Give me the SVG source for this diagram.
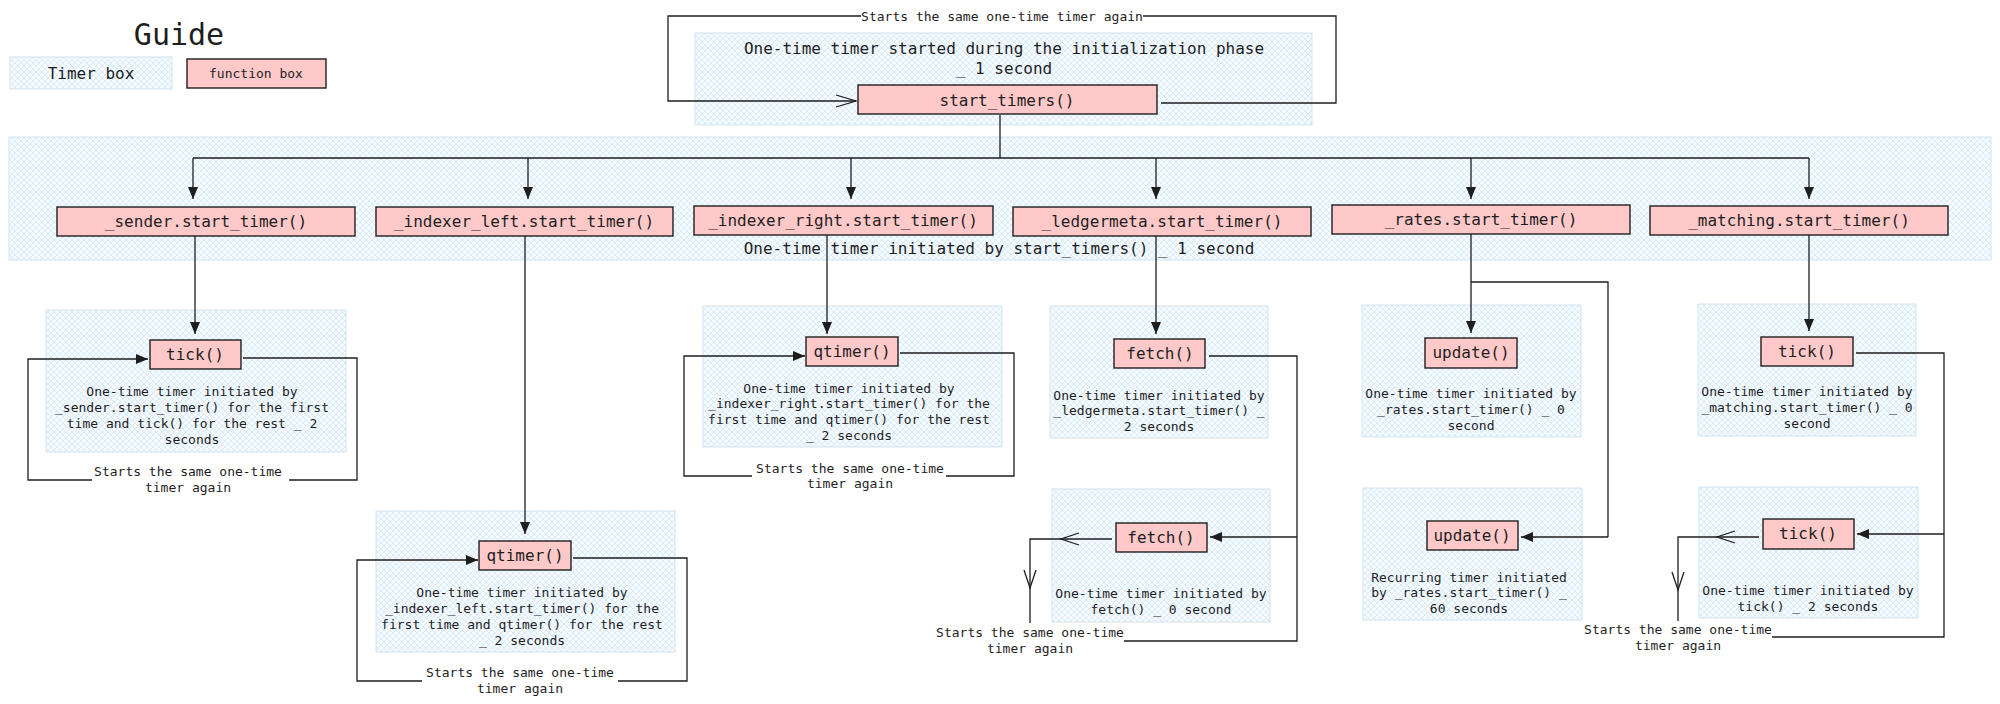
<svg xmlns="http://www.w3.org/2000/svg" width="2000" height="704" viewBox="0 0 2000 704">
<defs>
<pattern id="hatch" patternUnits="userSpaceOnUse" width="6" height="6">
<rect width="6" height="6" fill="#f5faff"/>
<path d="M0,6 L6,0 M-1,1 L1,-1 M5,7 L7,5 M0,0 L6,6 M-1,5 L1,7 M5,-1 L7,1" stroke="#c8e2f9" stroke-width="0.6"/>
</pattern>
<marker id="ah" viewBox="0 0 12 10" refX="12" refY="5" markerWidth="12" markerHeight="10" markerUnits="userSpaceOnUse" orient="auto">
<path d="M0,0 L12,5 L0,10 z" fill="#1e1e1e"/>
</marker>
<style>
text{font-family:"DejaVu Sans Mono","Liberation Mono",monospace;fill:#1e1e1e;text-anchor:middle}
.t13{font-size:13px}
.t16{font-size:16px}
.timer{fill:url(#hatch);stroke:#d3e3ef;stroke-width:1}
.fn{fill:#ffc9c9;stroke:#1e1e1e;stroke-width:1.4}
.ln{fill:none;stroke:#1e1e1e;stroke-width:1.3}
.arr{fill:none;stroke:#1e1e1e;stroke-width:1.3;marker-end:url(#ah)}
</style>
</defs>
<rect width="2000" height="704" fill="#ffffff"/>

<g id="guide">
<text x="179" y="45" style="font-size:30px">Guide</text>
<rect class="timer" x="10" y="57" width="162" height="32"/>
<text class="t16" x="91" y="79">Timer box</text>
<rect class="fn" x="187" y="59" width="139" height="29"/>
<text class="t13" x="256" y="78">function box</text>
</g>

<g id="band">
<rect class="timer" x="9" y="137" width="1982" height="123"/>
<text class="t16" x="999" y="254">One-time timer initiated by start_timers() _ 1 second</text>
</g>

<g id="init-timer">
<rect class="timer" x="695" y="33" width="617" height="92"/>
<text class="t16" x="1004" y="54">One-time timer started during the initialization phase</text>
<text class="t16" x="1004" y="74">_ 1 second</text>
</g>
<g id="start_timers">
<rect class="fn" x="858" y="85" width="299" height="29"/>
<text class="t16" x="1007" y="106">start_timers()</text>
</g>

<g id="sender-start"><rect class="fn" x="57" y="207" width="298" height="29"/><text class="t16" x="206" y="227">_sender.start_timer()</text></g>
<g id="indexer-left-start"><rect class="fn" x="376" y="207" width="297" height="29"/><text class="t16" x="524" y="227">_indexer_left.start_timer()</text></g>
<g id="indexer-right-start"><rect class="fn" x="694" y="206" width="299" height="29"/><text class="t16" x="843" y="226">_indexer_right.start_timer()</text></g>
<g id="ledgermeta-start"><rect class="fn" x="1013" y="207" width="298" height="29"/><text class="t16" x="1162" y="227">_ledgermeta.start_timer()</text></g>
<g id="rates-start"><rect class="fn" x="1332" y="205" width="298" height="29"/><text class="t16" x="1481" y="225">_rates.start_timer()</text></g>
<g id="matching-start"><rect class="fn" x="1650" y="206" width="298" height="29"/><text class="t16" x="1799" y="226">_matching.start_timer()</text></g>

<g id="sender-timer">
<rect class="timer" x="46" y="310" width="300" height="142"/>
<text class="t13" x="192" y="396">One-time timer initiated by</text>
<text class="t13" x="192" y="412">_sender.start_timer() for the first</text>
<text class="t13" x="192" y="428">time and tick() for the rest _ 2</text>
<text class="t13" x="192" y="444">seconds</text>
</g>
<g id="sender-tick"><rect class="fn" x="150" y="340" width="91" height="29"/><text class="t16" x="195" y="360">tick()</text></g>

<g id="indexer-left-timer">
<rect class="timer" x="376" y="511" width="299" height="141"/>
<text class="t13" x="522" y="597">One-time timer initiated by</text>
<text class="t13" x="522" y="613">_indexer_left.start_timer() for the</text>
<text class="t13" x="522" y="629">first time and qtimer() for the rest</text>
<text class="t13" x="522" y="645">_ 2 seconds</text>
</g>
<g id="indexer-left-qtimer"><rect class="fn" x="479" y="541" width="92" height="29"/><text class="t16" x="525" y="561">qtimer()</text></g>

<g id="indexer-right-timer">
<rect class="timer" x="703" y="306" width="299" height="141"/>
<text class="t13" x="849" y="393">One-time timer initiated by</text>
<text class="t13" x="849" y="408">_indexer_right.start_timer() for the</text>
<text class="t13" x="849" y="424">first time and qtimer() for the rest</text>
<text class="t13" x="849" y="440">_ 2 seconds</text>
</g>
<g id="indexer-right-qtimer"><rect class="fn" x="806" y="337" width="92" height="29"/><text class="t16" x="852" y="357">qtimer()</text></g>

<g id="ledgermeta-timer">
<rect class="timer" x="1050" y="306" width="218" height="132"/>
<text class="t13" x="1159" y="400">One-time timer initiated by</text>
<text class="t13" x="1159" y="415">_ledgermeta.start_timer() _</text>
<text class="t13" x="1159" y="431">2 seconds</text>
</g>
<g id="ledgermeta-fetch"><rect class="fn" x="1114" y="339" width="91" height="29"/><text class="t16" x="1160" y="359">fetch()</text></g>

<g id="fetch-timer">
<rect class="timer" x="1052" y="489" width="218" height="133"/>
<text class="t13" x="1161" y="598">One-time timer initiated by</text>
<text class="t13" x="1161" y="614">fetch() _ 0 second</text>
</g>
<g id="fetch-fetch"><rect class="fn" x="1116" y="523" width="91" height="29"/><text class="t16" x="1161" y="543">fetch()</text></g>

<g id="rates-timer">
<rect class="timer" x="1362" y="305" width="219" height="132"/>
<text class="t13" x="1471" y="398">One-time timer initiated by</text>
<text class="t13" x="1471" y="414">_rates.start_timer() _ 0</text>
<text class="t13" x="1471" y="430">second</text>
</g>
<g id="rates-update"><rect class="fn" x="1425" y="338" width="92" height="30"/><text class="t16" x="1471" y="358">update()</text></g>

<g id="rates-recurring">
<rect class="timer" x="1363" y="488" width="219" height="132"/>
<text class="t13" x="1469" y="582">Recurring timer initiated</text>
<text class="t13" x="1469" y="597">by _rates.start_timer() _</text>
<text class="t13" x="1469" y="613">60 seconds</text>
</g>
<g id="rates-update2"><rect class="fn" x="1427" y="521" width="91" height="29"/><text class="t16" x="1472" y="541">update()</text></g>

<g id="matching-timer">
<rect class="timer" x="1698" y="304" width="218" height="132"/>
<text class="t13" x="1807" y="396">One-time timer initiated by</text>
<text class="t13" x="1807" y="412">_matching.start_timer() _ 0</text>
<text class="t13" x="1807" y="428">second</text>
</g>
<g id="matching-tick"><rect class="fn" x="1761" y="337" width="92" height="29"/><text class="t16" x="1807" y="357">tick()</text></g>

<g id="tick-timer">
<rect class="timer" x="1699" y="487" width="219" height="131"/>
<text class="t13" x="1808" y="595">One-time timer initiated by</text>
<text class="t13" x="1808" y="611">tick() _ 2 seconds</text>
</g>
<g id="tick-tick"><rect class="fn" x="1763" y="519" width="91" height="30"/><text class="t16" x="1808" y="539">tick()</text></g>

<g id="connectors">
<!-- top loop -->
<path class="ln" d="M1161,103 H1336 V16 H1143"/>
<path class="ln" d="M861,16 H668 V101 H856"/>
<path class="ln" d="M836,95 L856,101 L836,107"/>
<text class="t13" x="1002" y="21">Starts the same one-time timer again</text>
<!-- distribution -->
<path class="ln" d="M1000,115 V158 M193,158 H1809"/>
<path class="arr" d="M193,158 V199"/>
<path class="arr" d="M528,158 V199"/>
<path class="arr" d="M851,158 V199"/>
<path class="arr" d="M1156,158 V199"/>
<path class="arr" d="M1471,158 V199"/>
<path class="arr" d="M1809,158 V199"/>
<!-- downward from start_timer boxes -->
<path class="arr" d="M195,236 V334"/>
<path class="arr" d="M525,236 V534"/>
<path class="arr" d="M827,235 V334"/>
<path class="arr" d="M1156,236 V334"/>
<path class="arr" d="M1471,234 V333"/>
<path class="arr" d="M1809,235 V331"/>
<!-- sender loop -->
<path class="ln" d="M243,358 H357 V480 H289"/>
<path class="arr" d="M92,480 H28 V359 H148"/>
<text class="t13" x="188" y="476">Starts the same one-time</text>
<text class="t13" x="188" y="492">timer again</text>
<!-- indexer left loop -->
<path class="ln" d="M573,558 H687 V681 H618"/>
<path class="arr" d="M422,681 H357 V560 H478"/>
<text class="t13" x="520" y="677">Starts the same one-time</text>
<text class="t13" x="520" y="693">timer again</text>
<!-- indexer right loop -->
<path class="ln" d="M900,353 H1014 V476 H946"/>
<path class="arr" d="M752,476 H684 V356 H805"/>
<text class="t13" x="850" y="473">Starts the same one-time</text>
<text class="t13" x="850" y="488">timer again</text>
<!-- ledgermeta / fetch -->
<path class="ln" d="M1209,356 H1297 V641 H1124"/>
<path class="arr" d="M1297,537 H1210"/>
<path class="ln" d="M1112,539 H1030 V623"/>
<path class="ln" d="M1079,533 L1061,539 L1079,545 M1024,570 L1030,588 L1036,570"/>
<text class="t13" x="1030" y="637">Starts the same one-time</text>
<text class="t13" x="1030" y="653">timer again</text>
<!-- rates -->
<path class="ln" d="M1471,282 H1608 V537"/>
<path class="arr" d="M1608,537 H1521"/>
<!-- matching / tick -->
<path class="ln" d="M1856,353 H1944 V637 H1772"/>
<path class="arr" d="M1944,534 H1857"/>
<path class="ln" d="M1759,537 H1678 V621"/>
<path class="ln" d="M1735,531 L1717,537 L1735,543 M1672,572 L1678,590 L1684,572"/>
<text class="t13" x="1678" y="634">Starts the same one-time</text>
<text class="t13" x="1678" y="650">timer again</text>
</g>
</svg>
